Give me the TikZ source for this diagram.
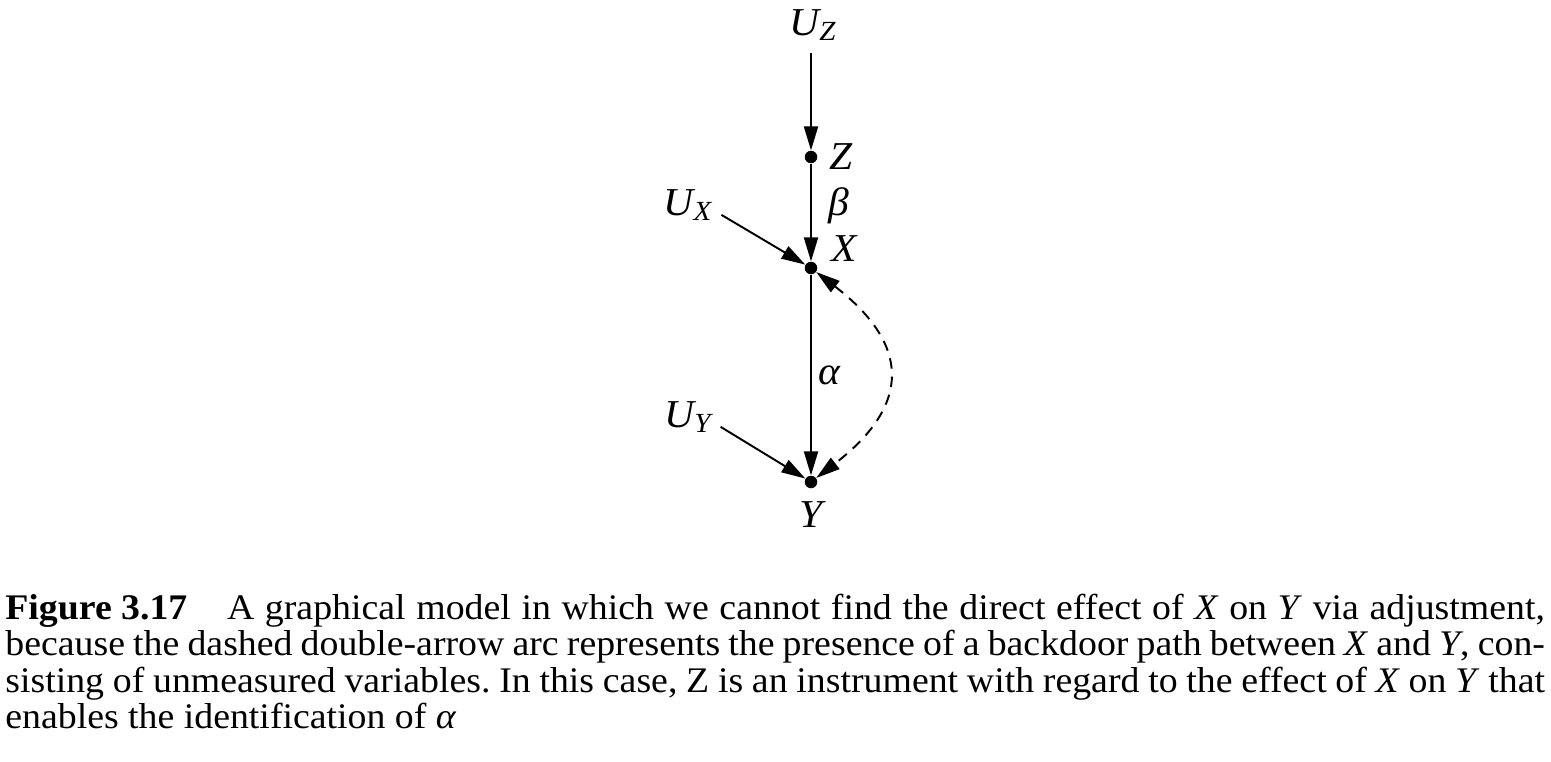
\documentclass[tikz,border=0pt]{standalone}
\usepackage{fontspec}
\setmainfont{Liberation Serif}[FakeStretch=1.05]
\usetikzlibrary{positioning}
\usetikzlibrary{arrows.meta}

\tikzset{
  dot/.style={circle,fill=black,inner sep=0pt,minimum size=0.25cm},
  lbl/.style={font=\fontsize{22.5}{26}\selectfont\itshape,inner sep=1pt},
  arr/.style={line width=1.1pt,-{Triangle[length=4.8mm,width=2.8mm]}},
}

\begin{document}
\begin{tikzpicture}[x=0.02cm,y=-0.02cm]
\useasboundingbox (0,0) rectangle (1551,761);

% the nodes
\node[dot] (z) at (811,157) {};
\node[dot] (x) at (811,268) {};
\node[dot] (y) at (811,482) {};
\node[lbl] (uz) at (813,25) {U\textsubscript{Z}};
\node[lbl] (ux) at (688,205) {U\textsubscript{X}};
\node[lbl] (uy) at (688,417) {U\textsubscript{Y}};

\node[lbl] (zl) at (841,157) {Z};
\node[lbl] (xl) at (844,249) {X};
\node[lbl] (yl) at (811,515) {Y};
\node[lbl] (beta) at (839,206) {β};
\node[lbl] (alpha) at (829,375) {α};

% the arrows
\draw[arr,shorten <=0.2cm] (uz.south -| z) -- (z);
\draw[arr] (z) -- (x);
\draw[arr] (x) -- (y);
\draw[arr] ([shift={(7,-8)}]ux.south east) -- (x);
\draw[arr] ([shift={(7,-8)}]uy.south east) -- (y);
\draw[arr,dash pattern=on 6pt off 4.5pt,{Triangle[length=4.8mm,width=2.8mm]}-{Triangle[length=4.8mm,width=2.8mm]}]
  (x) .. controls (911,345) and (911,405) .. (y);

% the caption
\node[anchor=north west,inner sep=0pt,text width=30.8cm,align=justify,
  font=\fontsize{20.5}{20.6}\selectfont\frenchspacing] (cap) at (5,594)
  {\textbf{\mbox{Figure 3.17}}\hspace{1.1em}A graphical model in which we cannot find the direct effect of \textit{X} on \textit{Y} via adjustment,\linebreak
  because the dashed double-arrow arc represents the presence of a backdoor path between \textit{X} and \textit{Y}, con-\linebreak
  sisting of unmeasured variables. In this case, Z is an instrument with regard to the effect of \textit{X} on \textit{Y} that\linebreak
  enables the identification of \textit{α}};
\end{tikzpicture}
\end{document}
